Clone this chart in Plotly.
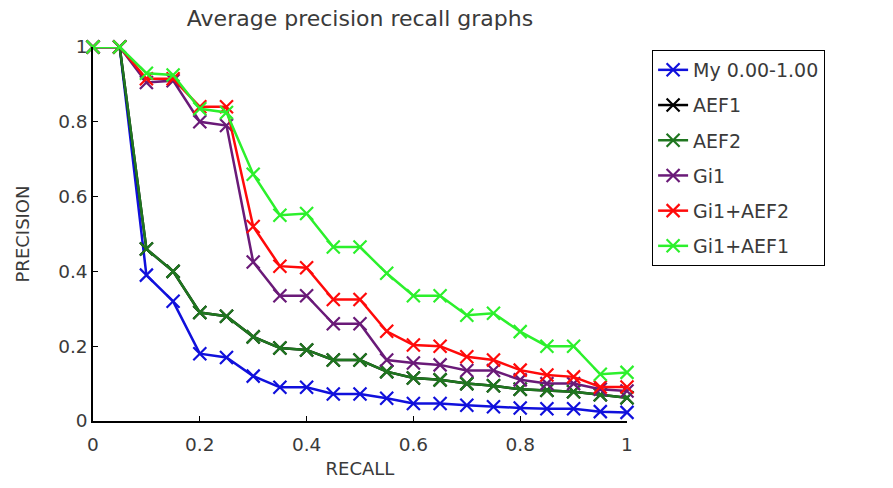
import plotly.graph_objects as go

recall = [0.0, 0.05, 0.10, 0.15, 0.20, 0.25, 0.30, 0.35, 0.40, 0.45, 0.50,
          0.55, 0.60, 0.65, 0.70, 0.75, 0.80, 0.85, 0.90, 0.95, 1.0]

my_000_100 = [1.0, 1.0, 0.39, 0.32, 0.18, 0.17, 0.12, 0.09, 0.09, 0.072, 0.072,
              0.061, 0.047, 0.047, 0.042, 0.038, 0.035, 0.033, 0.033, 0.025, 0.023]
aef1 = [1.0, 1.0, 0.46, 0.40, 0.29, 0.28, 0.225, 0.195, 0.19, 0.163, 0.163,
        0.132, 0.115, 0.11, 0.10, 0.094, 0.085, 0.082, 0.078, 0.07, 0.062]
aef2 = [1.0, 1.0, 0.46, 0.40, 0.29, 0.28, 0.225, 0.195, 0.19, 0.163, 0.163,
        0.132, 0.115, 0.11, 0.10, 0.094, 0.085, 0.082, 0.078, 0.07, 0.062]
gi1 = [1.0, 1.0, 0.905, 0.91, 0.80, 0.79, 0.425, 0.335, 0.335, 0.26, 0.26,
       0.163, 0.155, 0.15, 0.135, 0.135, 0.11, 0.10, 0.10, 0.085, 0.08]
gi1_aef2 = [1.0, 1.0, 0.915, 0.915, 0.84, 0.84, 0.52, 0.414, 0.41, 0.325, 0.325,
            0.24, 0.203, 0.20, 0.172, 0.163, 0.136, 0.123, 0.118, 0.091, 0.091]
gi1_aef1 = [1.0, 1.0, 0.93, 0.925, 0.835, 0.825, 0.66, 0.55, 0.555, 0.465, 0.465,
            0.395, 0.335, 0.335, 0.283, 0.288, 0.239, 0.20, 0.20, 0.125, 0.13]

series_names = ["My 0.00-1.00", "AEF1", "AEF2", "Gi1", "Gi1+AEF2", "Gi1+AEF1"]
series_values = [my_000_100, aef1, aef2, gi1, gi1_aef2, gi1_aef1]
series_colors = ["#1010dc", "#000000", "#1f761f", "#6a1a78", "#ff0a0a", "#2cf02c"]

x_ticks = [0, 0.2, 0.4, 0.6, 0.8, 1]
x_tick_text = ["0", "0.2", "0.4", "0.6", "0.8", "1"]
y_ticks = [0, 0.2, 0.4, 0.6, 0.8, 1]
y_tick_text = ["0", "0.2", "0.4", "0.6", "0.8", "1"]

FONT = "DejaVu Sans, Verdana, sans-serif"
TEXT = "#3a3a3a"

fig = go.Figure()
for name, vals, col in zip(series_names, series_values, series_colors):
    fig.add_trace(go.Scatter(
        x=recall, y=vals, name=name, mode="lines+markers", legendgroup=name,
        line=dict(color=col, width=2.5),
        marker=dict(symbol="x-thin", size=13, line=dict(color=col, width=2.2)),
        cliponaxis=False,
    ))

tick_font = dict(family=FONT, size=18.5, color=TEXT)

fig.update_layout(
    width=893, height=488,
    margin=dict(l=93, r=266, t=47, b=67),
    paper_bgcolor="white", plot_bgcolor="white",
    font=dict(family=FONT, color=TEXT),
    title=dict(text="Average precision recall graphs", x=(93 + 627) / 2 / 893,
               xanchor="center", y=1 - 18 / 488, yanchor="middle",
               font=dict(family=FONT, size=22, color=TEXT)),
    xaxis=dict(range=[0, 1], tickvals=x_ticks, ticktext=x_tick_text,
               showgrid=False, zeroline=False, showline=True, linecolor="black",
               linewidth=1.5, ticks="inside", ticklen=5, tickcolor="black",
               tickfont=tick_font, ticklabelstandoff=6,
               title=dict(text="RECALL", font=dict(family=FONT, size=18, color=TEXT),
                          standoff=8)),
    yaxis=dict(range=[0, 1], tickvals=y_ticks, ticktext=y_tick_text,
               showgrid=False, zeroline=False, showline=True, linecolor="black",
               linewidth=1.5, ticks="inside", ticklen=5, tickcolor="black",
               tickfont=tick_font,
               title=dict(text="PRECISION", font=dict(family=FONT, size=18, color=TEXT),
                          standoff=24)),
    legend=dict(x=1.047, y=0.992, xanchor="left", yanchor="top",
                bordercolor="black", borderwidth=1, bgcolor="white",
                tracegroupgap=7.5,
                font=dict(family=FONT, size=19, color=TEXT)),
)

fig.write_html("out.html")
